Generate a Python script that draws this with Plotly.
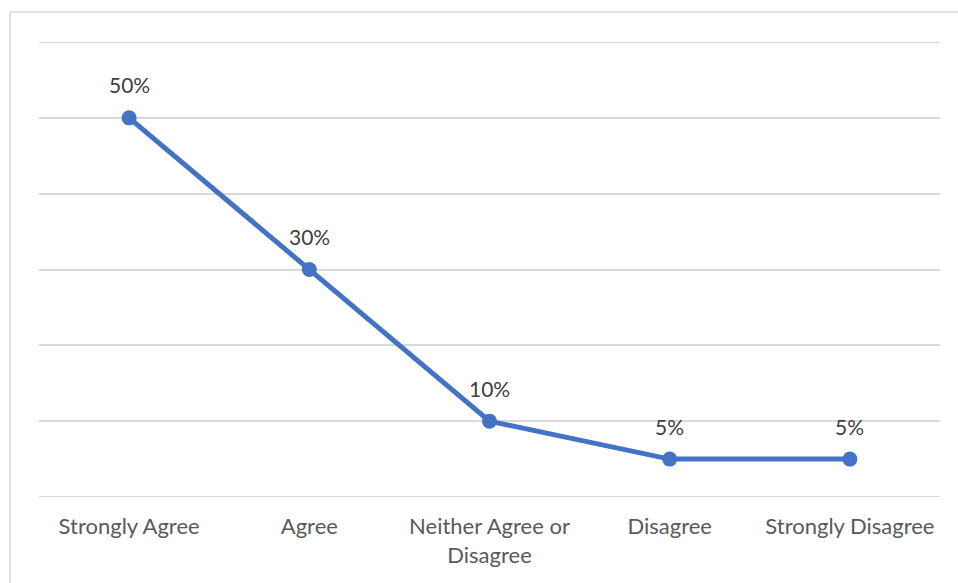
import plotly.graph_objects as go

categories = ["Strongly Agree", "Agree", "Neither Agree or<br>Disagree", "Disagree", "Strongly Disagree"]
shares = [0.50, 0.30, 0.10, 0.05, 0.05]
value_labels = [f"{v:.0%}" for v in shares]
grid_values = [0, 0.1, 0.2, 0.3, 0.4, 0.5, 0.6]

W, H = 958, 583
ml, mr, mt, mb = 39, 18, 42, 86
pw, ph = W - ml - mr, H - mt - mb
GRID = "#d9d9d9"

fig = go.Figure()
fig.add_trace(go.Scatter(
    x=categories, y=shares, mode="lines+markers",
    line=dict(color="#4472C4", width=5),
    marker=dict(color="#4472C4", size=15),
    hoverinfo="skip", showlegend=False,
))

for c, v, t in zip(categories, shares, value_labels):
    fig.add_annotation(x=c, y=v, text=t, showarrow=False, yshift=33,
                       font=dict(family="Lato, sans-serif", size=21, color="#404040"))

# outer chart frame
fig.add_shape(type="rect", xref="paper", yref="paper",
              x0=(10 - ml) / pw, x1=1.2, y0=-0.5, y1=1 + (mt - 12) / ph,
              line=dict(color=GRID, width=1.5), fillcolor="rgba(0,0,0,0)", layer="below")

# gridlines at the range ends (plotly skips those on the plot edge)
for g in (grid_values[0], grid_values[-1]):
    fig.add_shape(type="line", xref="paper", yref="y", x0=0, x1=1, y0=g, y1=g,
                  line=dict(color=GRID, width=2), layer="below")

fig.update_layout(
    width=W, height=H,
    margin=dict(l=ml, r=mr, t=mt, b=mb, autoexpand=False),
    paper_bgcolor="white", plot_bgcolor="white",
    font=dict(family="Lato, sans-serif", size=22, color="#595959"),
    xaxis=dict(range=[-0.5, 4.5], showgrid=False, zeroline=False, showline=False,
               ticks="", ticklabelstandoff=14, automargin=False, fixedrange=True),
    yaxis=dict(range=[grid_values[0], grid_values[-1]], tickvals=grid_values,
               showticklabels=False, automargin=False,
               showgrid=True, gridcolor=GRID, gridwidth=1.5,
               zeroline=False, showline=False, fixedrange=True),
)

fig.write_html("out.html")
